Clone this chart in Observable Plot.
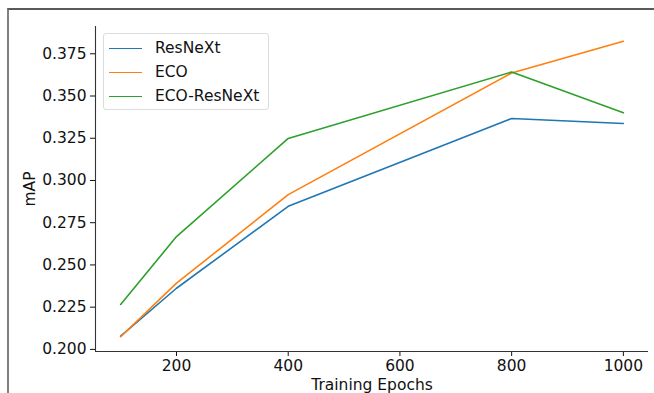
<!DOCTYPE html>
<html>
<head>
<meta charset="utf-8">
<script src="https://cdn.jsdelivr.net/npm/d3@7"></script>
<script src="https://cdn.jsdelivr.net/npm/@observablehq/plot@0.6"></script>
<style>
  html, body { margin: 0; padding: 0; background: #fff; }
  #wrap { position: relative; width: 654px; height: 393px; overflow: hidden; font-family: "DejaVu Sans", sans-serif; }
  #frame { position: absolute; left: 7px; top: 8px; width: 800px; height: 500px; border-top: 2px solid #5a5a5a; border-left: 2px solid #808080; pointer-events: none; }
  #legend { position: absolute; left: 103px; top: 33px; width: 166px; height: 77px; border: 1px solid #dcdcdc; border-radius: 3px; background: rgba(255,255,255,0.8); box-sizing: border-box; }
  .item { position: absolute; left: 5px; height: 20px; display: flex; align-items: center; font-size: 15.5px; color: #111; }
  .swatch { width: 33px; height: 0; border-top: 1.6px solid; margin-right: 13px; }
</style>
</head>
<body>
<div id="wrap"><div id="frame"></div></div>
<script>
const epochs = [100, 200, 400, 800, 1000];
const seriesNames = ["ResNeXt", "ECO", "ECO-ResNeXt"];
const resnext = [0.2078, 0.2362, 0.2847, 0.3367, 0.3337];
const eco = [0.2075, 0.2392, 0.2916, 0.3636, 0.3824];
const ecoResnext = [0.2266, 0.2668, 0.3249, 0.3642, 0.3401];
const colors = ["#1f77b4", "#ff7f0e", "#2ca02c"];
const xTicks = [200, 400, 600, 800, 1000];
const yTicks = [0.200, 0.225, 0.250, 0.275, 0.300, 0.325, 0.350, 0.375];

const allValues = [resnext, eco, ecoResnext];
const rows = [];
seriesNames.forEach((name, i) => {
  epochs.forEach((e, j) => rows.push({series: name, epoch: e, value: allValues[i][j]}));
});

const xMin = d3.min(epochs), xMax = d3.max(epochs);
const yMin = d3.min(rows, d => d.value), yMax = d3.max(rows, d => d.value);
const xPad = (xMax - xMin) * 0.05, yPad = (yMax - yMin) * 0.05;
const xDomain = [xMin - xPad, xMax + xPad];
const yDomain = [yMin - yPad, yMax + yPad];

const chart = Plot.plot({
  width: 654,
  height: 393,
  marginLeft: 95,
  marginRight: 6,
  marginTop: 26,
  marginBottom: 42,
  style: {fontFamily: "DejaVu Sans, sans-serif", fontSize: "15.5px", color: "#111", background: "transparent", overflow: "visible"},
  x: {domain: xDomain, ticks: xTicks, tickFormat: d => String(d), tickSize: 5, tickPadding: 3, label: "Training Epochs", labelAnchor: "center", labelOffset: 38, labelArrow: "none"},
  y: {domain: yDomain, ticks: yTicks, tickFormat: d3.format(".3f"), tickSize: 5, tickPadding: 4, label: "mAP", labelAnchor: "center", labelOffset: 72, labelArrow: "none"},
  color: {domain: seriesNames, range: colors},
  marks: [
    Plot.ruleX([xDomain[0]], {stroke: "#333", strokeWidth: 1.1}),
    Plot.ruleY([yDomain[0]], {stroke: "#333", strokeWidth: 1.1}),
    Plot.line(rows, {x: "epoch", y: "value", z: "series", stroke: "series", strokeWidth: 1.6})
  ]
});
document.getElementById("wrap").prepend(chart);

const legend = document.createElement("div");
legend.id = "legend";
seriesNames.forEach((name, i) => {
  const item = document.createElement("div");
  item.className = "item";
  item.style.top = (4 + i * 24) + "px";
  const sw = document.createElement("div");
  sw.className = "swatch";
  sw.style.borderColor = colors[i];
  const label = document.createElement("span");
  label.textContent = name;
  item.appendChild(sw);
  item.appendChild(label);
  legend.appendChild(item);
});
document.getElementById("wrap").appendChild(legend);
</script>
</body>
</html>
